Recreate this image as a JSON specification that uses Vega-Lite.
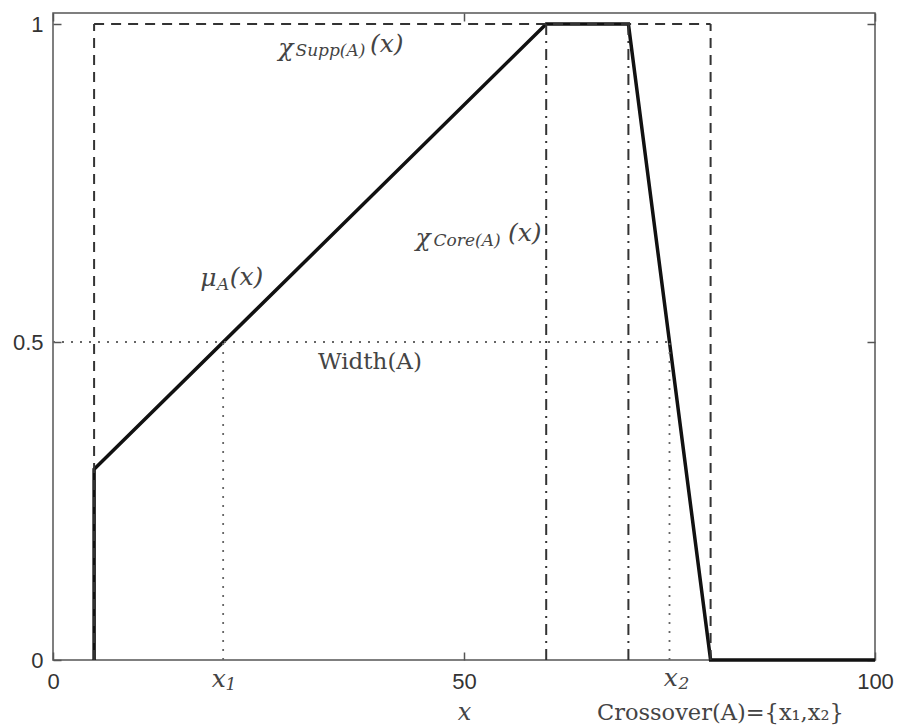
{
  "$schema": "https://vega.github.io/schema/vega-lite/v6.json",
  "width": 822,
  "height": 647,
  "autosize": {"type": "none"},
  "padding": {"left": 53, "top": 13, "right": 22, "bottom": 68},
  "background": "white",
  "config": {
    "view": {"stroke": "#555", "strokeWidth": 1.5},
    "axis": {"grid": false, "domain": false}
  },
  "datasets": {
    "curve": [
      {"x": 5, "y": 0, "o": 1},
      {"x": 5, "y": 0.3, "o": 2},
      {"x": 60, "y": 1, "o": 3},
      {"x": 70, "y": 1, "o": 4},
      {"x": 80, "y": 0, "o": 5},
      {"x": 100, "y": 0, "o": 6}
    ],
    "segs": [
      {"kind": "support", "x": 5, "x2": 5, "y": 0, "y2": 1},
      {"kind": "support", "x": 5, "x2": 80, "y": 1, "y2": 1},
      {"kind": "support", "x": 80, "x2": 80, "y": 0, "y2": 1},
      {"kind": "core", "x": 60, "x2": 60, "y": 0, "y2": 1},
      {"kind": "core", "x": 70, "x2": 70, "y": 0, "y2": 1},
      {"kind": "cross", "x": 0, "x2": 75, "y": 0.5, "y2": 0.5},
      {"kind": "cross", "x": 20.7, "x2": 20.7, "y": 0, "y2": 0.5},
      {"kind": "cross", "x": 75, "x2": 75, "y": 0, "y2": 0.5}
    ],
    "labels": [
      {"part": "main", "t": "χ", "x": 27.4, "y": 0.962},
      {"part": "main", "t": "(x)", "x": 38.56, "y": 0.9686},
      {"part": "main", "t": "χ", "x": 44.1, "y": 0.664},
      {"part": "main", "t": "(x)", "x": 55.35, "y": 0.671},
      {"part": "main", "t": "μ", "x": 17.9, "y": 0.6006},
      {"part": "main", "t": "(x)", "x": 21.5, "y": 0.602},
      {"part": "main", "t": "x", "x": 19.3, "y": -0.03},
      {"part": "main", "t": "x", "x": 74.3, "y": -0.028},
      {"part": "sub", "t": "Supp(A)", "x": 29.5, "y": 0.958},
      {"part": "sub", "t": "Core(A)", "x": 46.3, "y": 0.659},
      {"part": "sub", "t": "A", "x": 19.95, "y": 0.59},
      {"part": "sub", "t": "1", "x": 21.0, "y": -0.04},
      {"part": "sub", "t": "2", "x": 76.1, "y": -0.038},
      {"part": "plain", "t": "Width(A)", "x": 32.24, "y": 0.4686},
      {"part": "crossover", "t": "Crossover(A)={x₁,x₂}", "x": 66.18, "y": -0.0833}
    ]
  },
  "layer": [
    {
      "data": {"name": "curve"},
      "mark": {"type": "line", "color": "#111", "strokeWidth": 3.5, "strokeJoin": "miter"},
      "encoding": {
        "x": {"field": "x", "type": "quantitative", "scale": {"domain": [0, 100], "nice": false, "zero": false},
          "axis": {"orient": "bottom", "values": [0, 50, 100], "labelFlush": false, "labelFont": "Liberation Sans", "labelFontSize": 22, "labelColor": "#333", "tickSize": -8, "tickColor": "#555", "tickWidth": 1.5, "labelPadding": 19,
            "title": "x", "titleFont": "DejaVu Serif", "titleFontStyle": "italic", "titleFontWeight": "normal", "titleFontSize": 24, "titleColor": "#444", "titlePadding": 8}},
        "y": {"field": "y", "type": "quantitative", "scale": {"domain": [0, 1.0173], "nice": false, "zero": false},
          "axis": {"orient": "left", "values": [0, 0.5, 1], "format": "~g", "labelFont": "Liberation Sans", "labelFontSize": 22, "labelColor": "#333", "tickSize": -8, "tickColor": "#555", "tickWidth": 1.5, "labelPadding": 18, "title": null}},
        "order": {"field": "o"}
      }
    },
    {
      "data": {"name": "segs"},
      "transform": [{"filter": "datum.kind === 'support'"}],
      "mark": {"type": "rule", "color": "#333", "strokeWidth": 2, "strokeDash": [10, 7]},
      "encoding": {
        "x": {"field": "x", "type": "quantitative", "scale": {"domain": [0, 100], "nice": false, "zero": false},
          "axis": {"orient": "top", "values": [0, 50, 100], "labels": false, "tickSize": -8, "tickColor": "#555", "tickWidth": 1.5, "title": null}},
        "x2": {"field": "x2"},
        "y": {"field": "y", "type": "quantitative", "scale": {"domain": [0, 1.0173], "nice": false, "zero": false},
          "axis": {"orient": "right", "values": [0, 0.5, 1], "labels": false, "tickSize": -8, "tickColor": "#555", "tickWidth": 1.5, "title": null}},
        "y2": {"field": "y2"}
      }
    },
    {
      "data": {"name": "segs"},
      "transform": [{"filter": "datum.kind === 'core'"}],
      "mark": {"type": "rule", "color": "#333", "strokeWidth": 2, "strokeDash": [11, 6, 2, 6]},
      "encoding": {
        "x": {"field": "x", "type": "quantitative", "scale": {"domain": [0, 100], "nice": false, "zero": false}, "axis": null},
        "x2": {"field": "x2"},
        "y": {"field": "y", "type": "quantitative", "scale": {"domain": [0, 1.0173], "nice": false, "zero": false}, "axis": null},
        "y2": {"field": "y2"}
      }
    },
    {
      "data": {"name": "segs"},
      "transform": [{"filter": "datum.kind === 'cross'"}],
      "mark": {"type": "rule", "color": "#666", "strokeWidth": 1.8, "strokeDash": [2, 7]},
      "encoding": {
        "x": {"field": "x", "type": "quantitative", "scale": {"domain": [0, 100], "nice": false, "zero": false}, "axis": null},
        "x2": {"field": "x2"},
        "y": {"field": "y", "type": "quantitative", "scale": {"domain": [0, 1.0173], "nice": false, "zero": false}, "axis": null},
        "y2": {"field": "y2"}
      }
    },
    {
      "data": {"name": "labels"},
      "transform": [{"filter": "datum.part === 'main'"}],
      "mark": {"type": "text", "align": "left", "baseline": "middle", "font": "DejaVu Serif", "fontStyle": "italic", "fontSize": 25, "color": "#444"},
      "encoding": {
        "x": {"field": "x", "type": "quantitative", "scale": {"domain": [0, 100], "nice": false, "zero": false}, "axis": null},
        "y": {"field": "y", "type": "quantitative", "scale": {"domain": [0, 1.0173], "nice": false, "zero": false}, "axis": null},
        "text": {"field": "t"}
      }
    },
    {
      "data": {"name": "labels"},
      "transform": [{"filter": "datum.part === 'sub'"}],
      "mark": {"type": "text", "align": "left", "baseline": "middle", "font": "DejaVu Serif", "fontStyle": "italic", "fontSize": 17, "color": "#444"},
      "encoding": {
        "x": {"field": "x", "type": "quantitative", "scale": {"domain": [0, 100], "nice": false, "zero": false}, "axis": null},
        "y": {"field": "y", "type": "quantitative", "scale": {"domain": [0, 1.0173], "nice": false, "zero": false}, "axis": null},
        "text": {"field": "t"}
      }
    },
    {
      "data": {"name": "labels"},
      "transform": [{"filter": "datum.part === 'plain'"}],
      "mark": {"type": "text", "align": "left", "baseline": "middle", "font": "DejaVu Serif", "fontSize": 23, "color": "#444"},
      "encoding": {
        "x": {"field": "x", "type": "quantitative", "scale": {"domain": [0, 100], "nice": false, "zero": false}, "axis": null},
        "y": {"field": "y", "type": "quantitative", "scale": {"domain": [0, 1.0173], "nice": false, "zero": false}, "axis": null},
        "text": {"field": "t"}
      }
    },
    {
      "data": {"name": "labels"},
      "transform": [{"filter": "datum.part === 'crossover'"}],
      "mark": {"type": "text", "align": "left", "baseline": "middle", "font": "DejaVu Serif", "fontSize": 22.5, "color": "#444"},
      "encoding": {
        "x": {"field": "x", "type": "quantitative", "scale": {"domain": [0, 100], "nice": false, "zero": false}, "axis": null},
        "y": {"field": "y", "type": "quantitative", "scale": {"domain": [0, 1.0173], "nice": false, "zero": false}, "axis": null},
        "text": {"field": "t"}
      }
    }
  ],
  "resolve": {"axis": {"x": "independent", "y": "independent"}}
}
